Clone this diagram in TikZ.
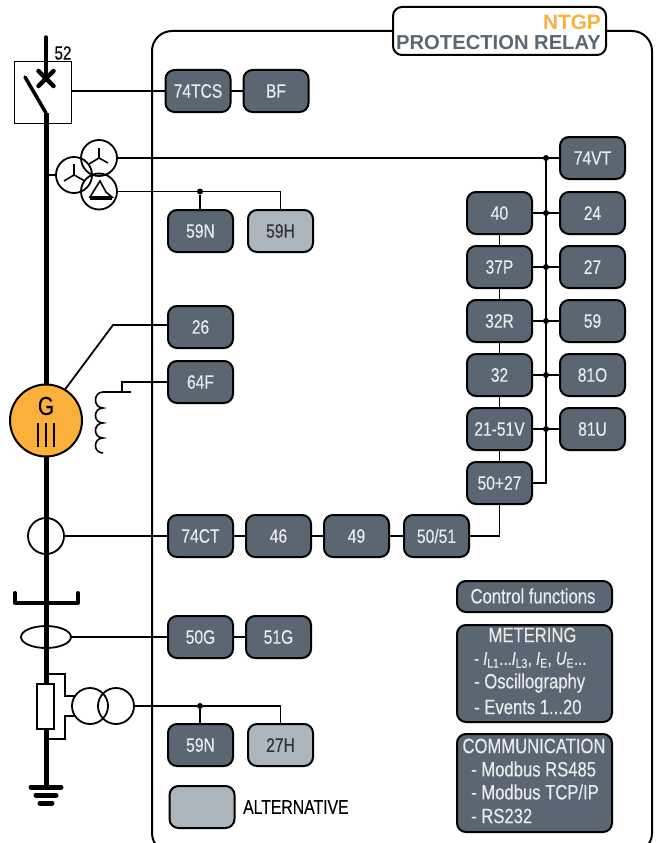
\documentclass[tikz,border=0pt]{standalone}
\usepackage{fontspec}
\setmainfont[FakeStretch=0.8,FakeBold=0.2]{Liberation Sans}
\newfontfamily\titlefont{Liberation Sans}
\usetikzlibrary{positioning,calc,shapes.geometric}
\definecolor{relaygrey}{HTML}{5A6772}
\definecolor{altgrey}{HTML}{ADB5BD}
\definecolor{ntgporange}{HTML}{FBB03B}
\definecolor{relaytext}{HTML}{E9ECEE}
\tikzset{
     block/.style={rectangle, draw=black, line width=2pt, fill=relaygrey, rounded corners=9pt,
                   text=relaytext, minimum width=65pt, minimum height=42pt, inner sep=0pt,
                   outer sep=0pt, font=\fontsize{19.5}{20}\selectfont},
     altblock/.style={block, fill=altgrey, text=black!80},
     panel/.style={block, minimum width=155pt},
     paneltext/.style={text=relaytext, inner sep=0pt, font=\fontsize{20.8}{22}\selectfont},
     wire/.style={draw, line width=1.8pt},
     thinwire/.style={draw, line width=1.6pt},
     bus/.style={draw, line width=5pt},
     ring/.style={circle, draw, line width=1.8pt, minimum size=36pt, inner sep=0pt, outer sep=0pt},
     dot/.style={circle, fill, inner sep=0pt, minimum size=6pt}
     }
\begin{document}
\begin{tikzpicture}[x=1pt,y=-1pt]
    \useasboundingbox (0,0) rectangle (657,843);
    % relay frame and title
    \node [draw, line width=2pt, fill=white, rounded corners=9pt, minimum width=213pt, minimum height=48pt, outer sep=0pt] (title) at (499.5,31) {};
    \node [anchor=east, inner sep=0pt, text=ntgporange, font=\titlefont\fontsize{20.8}{22}\bfseries\selectfont] (ntgp) at (601,22) {NTGP};
    \node [anchor=east, inner sep=0pt, text=relaygrey, font=\titlefont\fontsize{20.2}{22}\bfseries\selectfont] (relayname) at (601,43) {PROTECTION RELAY};
    \begin{scope}
    \clip (0,0) rectangle (657,843);
    \draw [wire, line width=2pt, rounded corners=20pt] (title.west) -| (152,853) -- (652,853) |- (title.east);
    \end{scope}

    % main line
    \coordinate (top) at (46,37);
    \coordinate (bladetop) at (25,77);
    \coordinate (hinge) at (46,113);
    \coordinate (earth) at (46,787);
    \path [bus, line width=3.5pt, line cap=round] (top) -- (46,78);
    \path [bus, line width=3.5pt, line cap=round] (bladetop) -- (hinge);
    \path [bus] (hinge) -- (earth);

    % breaker
    \node [draw, line width=1pt, minimum width=57pt, minimum height=61pt, outer sep=0pt] (breaker) at (42.5,92.5) {};
    \path [bus, line width=4.5pt, line cap=round] (38.5,71) -- (53.5,86) (53.5,71) -- (38.5,86);
    \node [inner sep=0pt, font=\fontsize{19}{20}\selectfont] (cb) at (63,53) {52};

    % voltage transformers
    \node [ring, fill=white] (vtA) at (74,175) {};
    \node [ring] (vtB) at (99,158) {};
    \node [ring] (vtC) at (99,191.5) {};
    \path [thinwire] (vtA.center) -- +(0,-11) (vtA.center) -- +(-10,6) (vtA.center) -- +(11,6);
    \path [thinwire] (vtB.center) -- +(0,-10) (vtB.center) -- +(-10,6) (vtB.center) -- +(9,5);
    \path [thinwire] (90,197) -- (100,181) -- (106,192) -- (112,197) -- cycle (90,199) -- (112,199);
    \path [wire] (46,175) -- (vtA.west);

    % generator
    \node [circle, draw, line width=2pt, fill=ntgporange, minimum size=72pt, inner sep=0pt, outer sep=0pt] (gen) at (46,420.5) {};
    \node [inner sep=0pt, font=\fontsize{26}{28}\selectfont] (genG) at (46,406) {G};
    \path [wire, line width=2pt] (38,423) -- (38,447) (46,423) -- (46,447) (54,423) -- (54,447);

    % field winding
    \coordinate (coilA) at (103,392);
    \coordinate (coilB) at (131,392);
    \path [thinwire] (coilB) -- (coilA) .. controls (93,392) and (93,408) .. (103,408)
        .. controls (93,408) and (93,423) .. (103,423)
        .. controls (93,423) and (93,438) .. (103,438)
        .. controls (93,438) and (93,453) .. (103,453);

    % current transformers, busbar, resistor
    \node [ring] (ctA) at (46,536) {};
    \path [draw, line width=4pt, line join=round, line cap=round] (15,593) -- (15,603) -- (78,603) -- (78,593);
    \node [ellipse, draw, line width=1.8pt, minimum width=50pt, minimum height=22pt, inner sep=0pt, outer sep=0pt] (ctB) at (46,637) {};
    \node [draw, line width=1.8pt, fill=white, minimum width=17pt, minimum height=45pt, inner sep=0pt, outer sep=0pt] (res) at (45.5,706.5) {};
    \path [thinwire] (46,674) -| (65,696) -- (76,696);
    \path [thinwire] (46,739) -| (65,716) -- (76,716);
    \node [ring] (vtD) at (90,706) {};
    \node [ring] (vtE) at (116,706) {};

    % earth
    \path [bus, line cap=round] (31,787) -- (61,787);
    \path [bus, line cap=round] (36,795) -- (56,795);
    \path [bus, line cap=round] (40,803) -- (52,803);

    % relay functions
    \node [block] (tcs) at (198,91) {74TCS};
    \node [block, right=13pt of tcs] (bf) {BF};
    \node [block] (sevenfourvt) at (592.5,158) {74VT};
    \node [block] (forty) at (499.5,213) {40};
    \node [block, below=12pt of forty] (thirtysevenp) {37P};
    \node [block, below=12pt of thirtysevenp] (thirtytwor) {32R};
    \node [block, below=12pt of thirtytwor] (thirtytwo) {32};
    \node [block, below=12pt of thirtytwo] (twentyone) {21-51V};
    \node [block, below=12pt of twentyone] (fifty) {50+27};
    \node [block] (twentyfour) at (592.5,213) {24};
    \node [block, below=12pt of twentyfour] (twentyseven) {27};
    \node [block, below=12pt of twentyseven] (fiftynine) {59};
    \node [block, below=12pt of fiftynine] (eightyoneo) {81O};
    \node [block, below=12pt of eightyoneo] (eightyoneu) {81U};
    \node [block] (neutralA) at (200.5,231) {59N};
    \node [altblock, right=15pt of neutralA] (thirdA) {59H};
    \node [block] (temp) at (200.5,327) {26};
    \node [block] (field) at (200.5,382) {64F};
    \node [block] (ctsup) at (200.5,536) {74CT};
    \node [block, right=13pt of ctsup] (fortysix) {46};
    \node [block, right=13pt of fortysix] (fortynine) {49};
    \node [block, right=15pt of fortynine] (fiftyone) {50/51};
    \node [block] (earthA) at (200.5,637) {50G};
    \node [block, right=13pt of earthA] (earthB) {51G};
    \node [block] (neutralB) at (200.5,745) {59N};
    \node [altblock, right=15pt of neutralB] (thirdB) {27H};
    \node [altblock] (legend) at (202,807) {};
    \node [anchor=west, inner sep=0pt, font=\fontsize{19.7}{20}\selectfont] (legendtext) at (243,807) {ALTERNATIVE};

    % panels
    \node [panel, minimum height=31pt] (control) at (534.5,596.5) {};
    \node [paneltext] (controltext) at (533,596) {Control functions};
    \node [panel, minimum height=97pt] (metering) at (534.5,673.5) {};
    \node [paneltext] (meteringtext) at (532.5,635) {METERING};
    \node [paneltext, anchor=west, font=\fontsize{18.5}{20}\selectfont] (meteringA) at (474,660) {- \textit{I}\textsubscript{L1}...\textit{I}\textsubscript{L3}, \textit{I}\textsubscript{E}, \textit{U}\textsubscript{E}...};
    \node [paneltext, anchor=west] (meteringB) at (474,683) {- Oscillography};
    \node [paneltext, anchor=west] (meteringC) at (474,707) {- Events 1...20};
    \node [panel, minimum height=98pt] (comm) at (534.5,783) {};
    \node [paneltext] (commtext) at (534,746) {COMMUNICATION};
    \node [paneltext, anchor=west] (commA) at (471,769) {- Modbus RS485};
    \node [paneltext, anchor=west] (commB) at (471,792) {- Modbus TCP/IP};
    \node [paneltext, anchor=west] (commC) at (471,816) {- RS232};

    % junctions
    \coordinate (busend) at (546,483);
    \node [dot] (busA) at (546,158) {};
    \node [dot] (busB) at (546,213) {};
    \node [dot] (busC) at (546,267) {};
    \node [dot] (busD) at (546,321) {};
    \node [dot] (busE) at (546,375) {};
    \node [dot] (busF) at (546,429) {};
    \node [dot] (tapA) at (200,191.5) {};
    \node [dot] (tapB) at (200,706) {};

    % connectors
    \path [wire] (breaker.east |- tcs) -- (tcs);
    \path [wire] (tcs) -- (bf);
    \path [thinwire] (vtB.east) -- (busA) -- (sevenfourvt);
    \path [thinwire] (busA) -- (busF) -- (busend) -- (fifty);
    \path [wire] (forty) -- (twentyfour);
    \path [wire] (thirtysevenp) -- (twentyseven);
    \path [wire] (thirtytwor) -- (fiftynine);
    \path [wire] (thirtytwo) -- (eightyoneo);
    \path [wire] (twentyone) -- (eightyoneu);
    \path [wire] (forty) -- (thirtysevenp);
    \path [wire] (thirtysevenp) -- (thirtytwor);
    \path [wire] (thirtytwor) -- (thirtytwo);
    \path [wire] (thirtytwo) -- (twentyone);
    \path [wire] (twentyone) -- (fifty);
    \path [thinwire] (vtC.east) -- (tapA) -| (thirdA);
    \path [thinwire] (tapA) -- (tapA |- neutralA.north);
    \path [wire] (gen) ++(19,-31) -- (113,325) -- (temp.west |- 113,325);
    \path [thinwire] (122,392) |- (field);
    \path [wire] (ctA.east) -- (ctsup);
    \path [wire] (ctsup) -- (fortysix);
    \path [wire] (fortysix) -- (fortynine);
    \path [wire] (fortynine) -- (fiftyone);
    \path [wire] (fiftyone) -| (fifty);
    \path [wire] (ctB.east) -- (earthA);
    \path [wire] (earthA) -- (earthB);
    \path [thinwire] (vtE.east) -- (tapB) -| (thirdB);
    \path [thinwire] (tapB) -- (tapB |- neutralB.north);
\end{tikzpicture}
\end{document}
